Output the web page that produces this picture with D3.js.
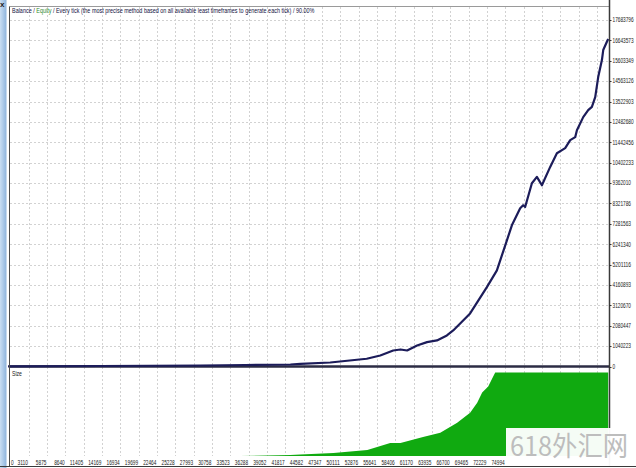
<!DOCTYPE html>
<html><head><meta charset="utf-8">
<script src="https://cdn.jsdelivr.net/npm/d3@7"></script>
<style>body{margin:0;background:#fff;overflow:hidden}</style>
</head><body><svg id="c" width="636" height="468"></svg>
<script>
const yTicks = [0,1040223,2080447,3120670,4160893,5201116,6241340,7281563,8321786,9362010,10402233,11442456,12482680,13522903,14563126,15603349,16643573,17683796];
const xTicks = [0,3110,5875,8640,11405,14169,16934,19699,22464,25228,27993,30758,33523,36288,39052,41817,44582,47347,50111,52876,55641,58406,61170,63935,66700,69465,72229,74994];
const xGridHidden = [77759,80523,83288,86053,88817];
const balTrades = [0,13900,29000,35800,42600,44100,48600,54100,56150,58100,59200,60200,61700,63200,64700,66200,67150,69700,72230,73740,75250,76000,77250,77700,78000,79020,79770,80530,81780,82790,84040,84800,85550,85810,86760,87510,88070,88570,89020,89580,89780,90330,90530];
const balValues = [10000,25000,50000,77000,102000,138000,204000,394000,562000,818000,869000,818000,1073000,1242000,1329000,1584000,1840000,2709000,4053000,4906000,6440000,7206000,8075000,8229000,8142000,9353000,9675000,9251000,10186000,10886000,11142000,11551000,11704000,12062000,12726000,13084000,13253000,13748000,14770000,15640000,16150000,16575000,16713000];
const sizeTrades = [0,35000,42600,44100,49100,54200,57650,59200,62600,65200,67750,69700,70770,71520,72430,73180,73490,90530];
const sizeValues = [0,0,1.2,1.8,3.6,7.2,15.7,15.7,22.9,27.7,39.8,51.8,63.9,75.9,83.1,95.2,100,100];
const titleParts = ["Balance / ", "Equity", " / Every tick (the most precise method based on all available least timeframes to generate each tick) / 90.00%"];

const svg = d3.select("#c");
const x = d3.scaleLinear().domain([0, 90800]).range([8, 610]);
const y = d3.scaleLinear().domain([0, 17683796]).range([366.5, 20]);
const ys = d3.scaleLinear().domain([0, 100]).range([456, 372.5]);
const FONT = "Liberation Sans, Arial, sans-serif";

// helper: text squeezed horizontally to a given width via transform
function fitText(parent, str, px, py, width, anchor, fill) {
  const g = parent.append("g");
  const t = g.append("text").attr("x",0).attr("y",0).attr("font-family",FONT).attr("font-size",6.5).attr("fill",fill||"#222").text(str);
  const w = t.node().getComputedTextLength();
  const s = width / w;
  const left = anchor === "end" ? px - width : px;
  g.attr("transform", `translate(${left},${py}) scale(${s},1)`);
  return g;
}

// left blue window strip
const defs = svg.append("defs");
const g1 = defs.append("linearGradient").attr("id","strip").attr("x1","0").attr("x2","1");
g1.append("stop").attr("offset","0").attr("stop-color","#c9def3");
g1.append("stop").attr("offset","1").attr("stop-color","#8db3dc");
svg.append("rect").attr("x",0).attr("y",0).attr("width",6.5).attr("height",468).attr("fill","url(#strip)");
svg.append("text").attr("x",0).attr("y",7).attr("font-family",FONT).attr("font-size",8).attr("font-weight","bold").attr("fill","#222").text("x");

// grid
const gridH = yTicks.filter(d => d > 0);
svg.append("g").selectAll("line").data(gridH).join("line")
  .attr("x1",10).attr("x2",609).attr("y1",d=>Math.round(y(d))+0.5).attr("y2",d=>Math.round(y(d))+0.5)
  .attr("stroke","#d2d2d2").attr("stroke-dasharray","2,2");
const gridV = xTicks.filter(d => d > 0).concat(xGridHidden);
svg.append("g").selectAll("line").data(gridV).join("line")
  .attr("x1",d=>Math.round(x(d))+0.5).attr("x2",d=>Math.round(x(d))+0.5).attr("y1",7).attr("y2",456)
  .attr("stroke","#d2d2d2").attr("stroke-dasharray","2,2");

// size area
const area = d3.area().x((d,i)=>x(sizeTrades[i])).y0(ys(0)).y1((d,i)=>ys(d));
svg.append("path").datum(sizeValues).attr("d",area).attr("fill","#10aa10");

// separator / zero line
svg.append("line").attr("x1",10).attr("x2",609).attr("y1",y(0)).attr("y2",y(0)).attr("stroke","#2c2c44").attr("stroke-width",2.5);

// balance line
const line = d3.line().x((d,i)=>x(balTrades[i])).y((d,i)=>y(d));
svg.append("path").datum(balValues).attr("d",line).attr("fill","none").attr("stroke","#1c1c5a").attr("stroke-width",2.2).attr("stroke-linejoin","round");

// frame
svg.append("line").attr("x1",9.5).attr("x2",609).attr("y1",6.5).attr("y2",6.5).attr("stroke","#9a9a9a");
svg.append("line").attr("x1",9.5).attr("x2",9.5).attr("y1",6.5).attr("y2",466).attr("stroke","#4a4a4a");
svg.append("line").attr("x1",609.5).attr("x2",609.5).attr("y1",0).attr("y2",466).attr("stroke","#3a3a3a").attr("stroke-width",1.5);
svg.append("line").attr("x1",0).attr("x2",636).attr("y1",466.5).attr("y2",466.5).attr("stroke","#3a3a3a");

// y axis
const yAxis = svg.append("g");
yAxis.selectAll("line").data(yTicks).join("line")
  .attr("x1",609).attr("x2",611.5).attr("y1",d=>Math.round(y(d))+0.5).attr("y2",d=>Math.round(y(d))+0.5).attr("stroke","#333");
yTicks.forEach(d => fitText(yAxis, String(d), 612.5, y(d)+2.3, String(d).length*2.65, "start"));

// x axis labels
const xAxis = svg.append("g");
xTicks.forEach(d => {
  const s = String(d);
  if (d === 0) fitText(xAxis, s, 11, 464.5, 2.65, "start");
  else fitText(xAxis, s, x(d)-0.5, 464.5, s.length*2.65, "end");
});

// title: parts measured and laid out in a row, then squeezed to the reference width
const tg = svg.append("g");
const tColors = ["#101040", "#2e8b2e", "#101040"];
let cx = 0;
titleParts.forEach((p, i) => {
  const t = tg.append("text").attr("x",cx).attr("y",0).attr("font-family",FONT).attr("font-size",6.5)
    .attr("fill",tColors[i]).style("white-space","pre").attr("xml:space","preserve").text(p);
  cx += t.node().getComputedTextLength();
});
tg.attr("transform", `translate(12,12.5) scale(${303/cx},1)`);

// size label
fitText(svg, "Size", 12, 375.5, 10, "start");

// watermark
svg.append("rect").attr("x",506).attr("y",428).attr("width",130).attr("height",38).attr("fill","#ffffff").attr("fill-opacity",0.96);
svg.append("text").attr("x",510).attr("y",456).attr("font-family","Noto Sans CJK SC, sans-serif").attr("font-size",27)
  .attr("fill","#bdbdbd").attr("textLength",118).attr("lengthAdjust","spacingAndGlyphs").text("618外汇网");
</script></body></html>
